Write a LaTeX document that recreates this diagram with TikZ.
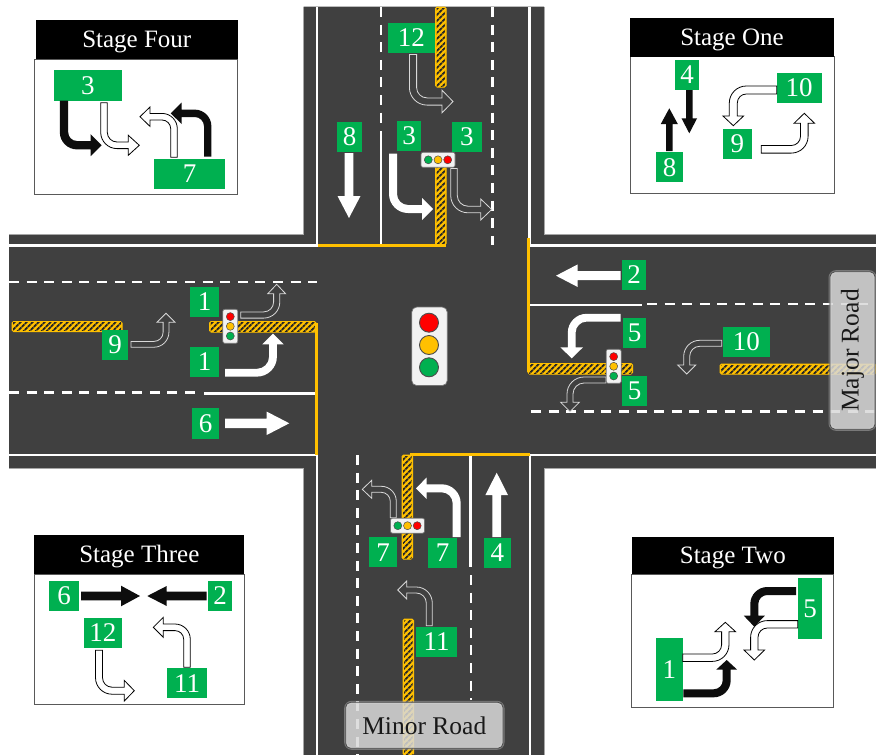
\documentclass[tikz,border=0pt]{standalone}
\usepackage{fontspec}
\setmainfont{Liberation Serif}
\usetikzlibrary{patterns.meta}
\definecolor{road}{HTML}{404040}
\definecolor{sgreen}{HTML}{00B050}
\definecolor{syellow}{HTML}{FFC000}
\definecolor{sred}{HTML}{FF0000}
\tikzset{
 dirx E/.style={x={(1pt,0pt)}}, dirx W/.style={x={(-1pt,0pt)}},
 dirx N/.style={x={(0pt,1pt)}}, dirx S/.style={x={(0pt,-1pt)}},
 diry E/.style={y={(1pt,0pt)}}, diry W/.style={y={(-1pt,0pt)}},
 diry N/.style={y={(0pt,1pt)}}, diry S/.style={y={(0pt,-1pt)}},
 perp E/.style={y={(0pt,1pt)}}, perp W/.style={y={(0pt,1pt)}},
 perp N/.style={y={(1pt,0pt)}}, perp S/.style={y={(1pt,0pt)}},
 solidwhite/.style={fill=white,draw=none},
 hollowroad/.style={fill=road,draw=white!85!black,line width=0.8pt},
 hollowbox/.style={fill=white,draw=black,line width=0.8pt},
 solidblack/.style={fill=black!95,draw=none},
 tag/.style={fill=sgreen,text=white,font=\fontsize{27}{27}\selectfont,inner sep=0pt,anchor=center},
 edge/.style={white,line width=2.4pt},
 dashline/.style={white,line width=2.4pt,dash pattern=on 10pt off 7.6pt},
 stopline/.style={syellow,line width=3pt},
 hatchbar/.style={fill=syellow,draw=syellow,line width=1pt,rounded corners=1.5pt},
 hatchlines/.style={pattern={Lines[angle=45,distance=4pt,line width=2pt]},pattern color=black!85},
 lampbody/.style={fill=black!5,draw=black!55,line width=0.7pt,rounded corners=2pt},
 lamp/.style={circle,draw=black!70,line width=0.5pt,inner sep=0pt,minimum size=8pt},
 stagehead/.style={fill=black,draw=none,text=white,font=\fontsize{25}{25}\selectfont,inner sep=0pt,text height=16pt,text depth=0pt},
 stagebody/.style={fill=white,draw=black!65,line width=1pt,inner sep=0pt},
 roadlabel/.style={fill=black!15,fill opacity=0.85,draw=black!70,draw opacity=1,line width=0.8pt,rounded corners=5pt,inner sep=0pt},
 labelglow/.style={draw=white!70!black,draw opacity=0.5,line width=3pt,rounded corners=6pt},
 roadtext/.style={text=black!90,font=\fontsize{25.5}{26}\selectfont,inner sep=0pt},
}
% bent arrow: #1 style, #2 #3 start, #4 first direction, #5 last direction,
% #6 run along first, #7 run along last, #8 radius, #9 half shaft
\newcommand\bentbase[9]{%
 \pgfmathsetmacro\kO{0.5523*(#8+#9)}\pgfmathsetmacro\kI{0.5523*(#8-#9)}%
 \begin{scope}[shift={(#2,#3)},dirx #5,diry #4]
 \path[#1] (-#9,0) -- (-#9,{#6-#8}) .. controls (-#9,{#6-#8+\kO}) and ({#8-\kO},{#6+#9}) .. (#8,{#6+#9})
  -- ({#7-\headl},{#6+#9}) -- ({#7-\headl},{#6+\headh}) -- (#7,#6) -- ({#7-\headl},{#6-\headh})
  -- ({#7-\headl},{#6-#9}) -- (#8,{#6-#9}) .. controls ({#8-\kI},{#6-#9}) and (#9,{#6-#8+\kI}) .. (#9,{#6-#8})
  -- (#9,0) -- cycle;
 \end{scope}}
% straight arrow: #1 style, #2 #3 start, #4 direction, #5 length, #6 half shaft, #7 half head, #8 head length
\newcommand\straightarr[8]{%
 \begin{scope}[shift={(#2,#3)},dirx #4,perp #4]
 \path[#1] (0,-#6) -- ({#5-#8},-#6) -- ({#5-#8},-#7) -- (#5,0) -- ({#5-#8},#7) -- ({#5-#8},#6) -- (0,#6) -- cycle;
 \end{scope}}
\newcommand\headset[2]{\def\headh{#1}\def\headl{#2}}
\newcommand\hatchrect[4]{%
 \path[hatchbar] (#1,#2) rectangle (#3,#4);
 \path[hatchlines] (#1+1,#2+1) rectangle (#3-1,#4-1);}
\newcommand\lightV[3]{% x, y centre, name
 \node[lampbody,minimum width=15pt,minimum height=34pt,inner sep=0pt] (#3) at (#1,#2) {};
 \node[lamp,fill=sred] (#3r) at (#1,#2-9.7) {};
 \node[lamp,fill=syellow] (#3y) at (#1,#2) {};
 \node[lamp,fill=sgreen] (#3g) at (#1,#2+9.7) {};}
\newcommand\lightH[3]{%
 \node[lampbody,minimum width=34pt,minimum height=15pt,inner sep=0pt] (#3) at (#1,#2) {};
 \node[lamp,fill=sgreen] (#3g) at (#1-9.7,#2) {};
 \node[lamp,fill=syellow] (#3y) at (#1,#2) {};
 \node[lamp,fill=sred] (#3r) at (#1+9.7,#2) {};}
\newcommand\tg[6]{% name x0 y0 x1 y1 text
 \pgfmathsetmacro\tw{#4-#2}\pgfmathsetmacro\th{#5-#3}%
 \node[tag,minimum width=\tw pt,minimum height=\th pt] (#1) at ({(#2+#4)/2},{(#3+#5)/2}) {#6};}
\begin{document}
\begin{tikzpicture}[x=1pt,y=-1pt]
\useasboundingbox (0,0) rectangle (876,755);
% road surface
\fill[road] (9,234.5) -- (303.5,234.5) -- (303.5,6.5) -- (544,6.5) -- (544,234.5) -- (876,234.5) -- (876,468.5)
 -- (544,468.5) -- (544,755) -- (303.5,755) -- (303.5,468.5) -- (9,468.5) -- cycle;
\draw[black!35,line width=0.8pt] (9,234.5) -- (303.5,234.5) -- (303.5,6.5);
\draw[black!35,line width=0.8pt] (876,234.5) -- (544,234.5) -- (544,6.5);
\draw[black!35,line width=0.8pt] (9,468.5) -- (303.5,468.5) -- (303.5,755);
\draw[black!35,line width=0.8pt] (876,468.5) -- (544,468.5) -- (544,755);
% kerb lines
\draw[edge] (317,6.5) -- (317,245.5) -- (9,245.5);
\draw[edge] (529.5,6.5) -- (529.5,245.5) -- (876,245.5);
\draw[edge] (9,455) -- (317,455) -- (317,755);
\draw[edge] (876,455) -- (530,455) -- (530,755);
% lane lines
\draw[dashline] (9,282) -- (317,282);
\draw[dashline] (9,392.5) -- (197,392.5);
\draw[edge] (204,393.5) -- (316,393.5);
\draw[edge] (530,305) -- (642,305);
\draw[dashline] (647,304) -- (876,304);
\draw[dashline] (531,411.5) -- (876,411.5);
\draw[dashline] (381,7) -- (381,124);
\draw[edge] (381,131) -- (381,245);
\draw[dashline] (492.5,7) -- (492.5,245);
\draw[dashline] (357.5,455) -- (357.5,755);
\draw[edge] (470.5,455) -- (470.5,567);
\draw[dashline] (471,575) -- (471,700);
% hatched islands
\hatchrect{435.5}{7}{446}{87}
\hatchrect{435.5}{165}{446}{245}
\hatchrect{528}{363.5}{632.5}{374}
\hatchrect{402}{455}{412.5}{559}
\hatchrect{403}{619}{413.5}{755}
\hatchrect{209.5}{321.5}{316}{332}
\hatchrect{12}{321.5}{122}{331.5}
\hatchrect{720}{364}{876}{374}
% stop lines
\draw[stopline] (318,245) -- (446,245);
\draw[stopline] (528,238) -- (528,372);
\draw[stopline] (410,454.5) -- (530,454.5);
\draw[stopline] (316,323) -- (316,455);
% road arrows, solid
\straightarr{solidwhite}{349}{153}{S}{65}{4.3}{11.5}{22}
\headset{11}{11}\bentbase{solidwhite}{393}{153.5}{S}{E}{55.5}{40}{15}{4}
\headset{10.7}{10.7}\bentbase{solidwhite}{225}{372.7}{E}{N}{48}{39}{16}{3.9}
\straightarr{solidwhite}{225}{423.3}{E}{64.3}{4.7}{11.7}{22.6}
\straightarr{solidwhite}{620.7}{275.7}{W}{64.7}{4.5}{11.3}{21.7}
\headset{11.3}{11}\bentbase{solidwhite}{620.7}{317.7}{W}{S}{49}{40.6}{15}{3.9}
\headset{10.8}{10.7}\bentbase{solidwhite}{456.7}{537}{N}{W}{48.7}{40.7}{15}{4}
\straightarr{solidwhite}{496.7}{537}{N}{64.3}{4.4}{11.3}{22.3}
% road arrows, hollow
\headset{11.3}{11}\bentbase{hollowroad}{413}{54.5}{S}{E}{47}{40}{14}{3.6}
\headset{10.5}{11}\bentbase{hollowroad}{454}{168.5}{S}{E}{41}{37.7}{14}{3.3}
\headset{9}{9}\bentbase{hollowroad}{131}{344.3}{E}{N}{35}{31}{12}{2.9}
\headset{9}{9.5}\bentbase{hollowroad}{240.7}{315}{E}{N}{36}{30.7}{13}{3.1}
\headset{9.3}{9.4}\bentbase{hollowroad}{606}{380}{W}{S}{36}{31.7}{14}{3}
\headset{9}{9}\bentbase{hollowroad}{721.7}{343.3}{W}{S}{35}{30.7}{13}{3}
\headset{9}{9.4}\bentbase{hollowroad}{393.3}{517.7}{N}{W}{28.4}{31}{12}{3}
\headset{9}{9}\bentbase{hollowroad}{429.3}{625.7}{N}{W}{35.7}{31.6}{13}{3}
% road tags
\tg{tagXII}{387.7}{23.3}{435}{52.7}{12}
\tg{tagVIII}{337.3}{122}{361.7}{152}{8}
\tg{tagIIIa}{397}{120.7}{421}{150.7}{3}
\tg{tagIIIb}{452}{122.3}{481.7}{152}{3}
\tg{tagIa}{190}{287.3}{219}{316.7}{1}
\tg{tagIb}{190}{347.3}{219}{376.7}{1}
\tg{tagIX}{102.3}{330}{127.7}{360}{9}
\tg{tagVI}{192}{408}{219}{439.3}{6}
\tg{tagII}{622}{260}{646}{290}{2}
\tg{tagVa}{623}{318}{646.3}{347.7}{5}
\tg{tagVb}{622}{376}{647.3}{406}{5}
\tg{tagX}{723}{327}{769.7}{356.7}{10}
\tg{tagVIIa}{369}{537.3}{397}{567.3}{7}
\tg{tagVIIb}{428}{538}{457}{567.7}{7}
\tg{tagIV}{483.7}{538}{511}{567.7}{4}
\tg{tagXI}{416}{627}{457}{656.7}{11}
% signal heads
\lightH{438}{159.8}{lightN}
\lightV{230.3}{326.3}{lightW}
\lightV{613.7}{366.3}{lightE}
\lightH{407.5}{525.7}{lightS}
% central signal
\node[lampbody,rounded corners=5pt,minimum width=35.5pt,minimum height=78.5pt,inner sep=0pt] (centre) at (429.5,346.3) {};
\node[lamp,fill=sred,minimum size=19pt,line width=0.9pt] (centreR) at (429,322.7) {};
\node[lamp,fill=syellow,minimum size=19pt,line width=0.9pt] (centreY) at (429,345) {};
\node[lamp,fill=sgreen,minimum size=19pt,line width=0.9pt] (centreG) at (429,367.3) {};
% road name labels
\path[labelglow] (830,271.7) rectangle (875,429.3);
\node[roadlabel,minimum width=45pt,minimum height=157.6pt] (major) at (852.5,350.5) {};
\node[roadtext,rotate=90] (majort) at (852.5,350.5) {Major Road};
\path[labelglow] (345.7,702.3) rectangle (503,748.3);
\node[roadlabel,minimum width=157.3pt,minimum height=46pt] (minor) at (424.3,725.3) {};
\node[roadtext] (minort) at (424.3,725.3) {Minor Road};
% ---- Stage Four
\node[stagebody,minimum width=203.3pt,minimum height=135pt] (s4b) at (136.3,126.8) {};
\node[stagehead,minimum width=202.3pt,minimum height=39.3pt] (s4h) at (136.8,39.6) {Stage Four};
\tg{s4a}{54}{70}{121.7}{100.7}{3}
\tg{s4c}{154}{159}{225}{189}{7}
\headset{11}{11}\bentbase{solidblack}{64}{100.7}{S}{E}{44.5}{37.7}{13}{4.2}
\headset{10}{11}\bentbase{hollowbox}{104}{102.7}{S}{E}{42.6}{35.3}{13}{3.3}
\headset{10.8}{11}\bentbase{solidblack}{207.7}{156.7}{N}{W}{43.4}{37}{13}{3.7}
\headset{9.7}{10}\bentbase{hollowbox}{174}{157.3}{N}{W}{40.6}{34}{12}{3.3}
% ---- Stage One
\node[stagebody,minimum width=204pt,minimum height=136.6pt] (s1b) at (732,125) {};
\node[stagehead,minimum width=204pt,minimum height=38.4pt] (s1h) at (732,37.5) {Stage One};
\tg{s1a}{675}{60}{699.3}{90}{4}
\tg{s1c}{776.7}{73.3}{821.7}{102.7}{10}
\tg{s1d}{722.7}{129}{752}{159}{9}
\tg{s1e}{656}{152.3}{683.3}{182.3}{8}
\straightarr{solidblack}{689.3}{90}{S}{43.3}{3.3}{7.8}{15}
\straightarr{solidblack}{669.3}{151}{N}{42.7}{3.3}{8.5}{15.7}
\headset{10.3}{9.7}\bentbase{hollowbox}{776.7}{90}{W}{S}{43.4}{35.7}{13}{4}
\headset{10.3}{10}\bentbase{hollowbox}{761.3}{149.3}{E}{N}{43}{36}{13}{3.8}
% ---- Stage Three
\node[stagebody,minimum width=210pt,minimum height=130.7pt] (s3b) at (139.3,639.6) {};
\node[stagehead,minimum width=210pt,minimum height=39.3pt] (s3h) at (139.3,554.6) {Stage Three};
\tg{s3a}{49}{581}{79.3}{611}{6}
\tg{s3c}{208.3}{581}{231.7}{611}{2}
\tg{s3d}{84}{617.7}{121.7}{647.7}{12}
\tg{s3e}{166.7}{668.3}{207.3}{698.3}{11}
\straightarr{solidblack}{81}{596}{E}{59}{4.3}{10.3}{19}
\straightarr{solidblack}{206.7}{596}{W}{59.4}{4.3}{10}{19.4}
\headset{10.3}{10}\bentbase{hollowbox}{99}{650.3}{S}{E}{40.4}{35.3}{13}{3.5}
\headset{10}{10}\bentbase{hollowbox}{187}{667.3}{N}{W}{40}{33.7}{12}{3.3}
% ---- Stage Two
\node[stagebody,minimum width=202.3pt,minimum height=133.4pt] (s2b) at (732.8,641) {};
\node[stagehead,minimum width=202.3pt,minimum height=37.6pt] (s2h) at (732.8,555.5) {Stage Two};
\tg{s2a}{656}{638.3}{682.7}{701}{1}
\tg{s2c}{798.3}{578.3}{821.7}{639}{5}
\headset{10.3}{9.5}\bentbase{solidblack}{683.3}{693.3}{E}{N}{43.4}{33.3}{13}{4}
\headset{10.3}{9.4}\bentbase{hollowbox}{682.7}{657.7}{E}{N}{42.6}{35.4}{13}{3.7}
\headset{10.5}{11}\bentbase{solidblack}{796}{591}{W}{S}{41.7}{35.7}{13}{4}
\headset{10.3}{10}\bentbase{hollowbox}{797.7}{624.3}{W}{S}{43.4}{35.7}{13}{3.7}
\end{tikzpicture}
\end{document}
